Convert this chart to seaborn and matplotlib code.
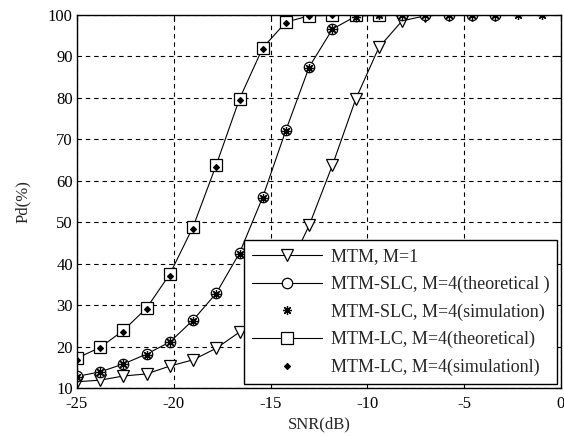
import matplotlib
matplotlib.use("Agg")
import matplotlib.pyplot as plt
import seaborn as sns
import pandas as pd

# SNR grid (dB)
snr = [-25.0, -23.8, -22.6, -21.4, -20.2, -19.0, -17.8, -16.6, -15.4, -14.2,
       -13.0, -11.8, -10.6, -9.4, -8.2, -7.0, -5.8, -4.6, -3.4, -2.2, -1.0]

# MTM, M=1
pd_mtm = [11.5, 11.9, 12.9, 13.4, 15.3, 16.8, 19.6, 23.5, 29.5, 37.5,
          49.3, 63.8, 79.7, 92.2, 98.6, 99.8, 100.0, 100.0, 100.0]
# MTM-SLC theoretical
pd_slc_theo = [12.8, 13.9, 15.8, 18.2, 21.1, 26.4, 32.9, 42.6, 56.1, 72.3,
               87.5, 96.6, 99.7, 100.0, 100.0, 100.0, 100.0, 100.0, 100.0]
# MTM-SLC simulation
pd_slc_sim = [12.6, 13.8, 15.7, 18.0, 21.0, 26.2, 32.8, 42.4, 55.8, 72.0,
              87.3, 96.5, 99.6, 100.0, 100.0, 100.0, 100.0, 100.0, 100.0, 100.0, 100.0]
# MTM-LC theoretical
pd_lc_theo = [17.2, 19.8, 23.9, 29.3, 37.5, 48.9, 63.9, 79.8, 92.1, 98.3,
              99.8, 99.9, 100.0, 100.0]
# MTM-LC simulation
pd_lc_sim = [16.8, 19.6, 23.5, 29.0, 37.0, 48.4, 63.4, 79.4, 91.9, 98.1,
             99.7, 99.9, 100.0, 100.0]

labels = ["MTM, M=1",
          "MTM-SLC, M=4(theoretical )",
          "MTM-SLC, M=4(simulation)",
          "MTM-LC, M=4(theoretical)",
          "MTM-LC, M=4(simulationl)"]

xticks = [-25, -20, -15, -10, -5, 0]
yticks = [10, 20, 30, 40, 50, 60, 70, 80, 90, 100]

sns.set_style("white")
plt.rcParams['font.family'] = ['Liberation Serif', 'DejaVu Serif']
plt.rcParams['font.size'] = 12
plt.rcParams['axes.unicode_minus'] = False

fig = plt.figure(figsize=(5.64, 4.37), dpi=100)
ax = fig.add_axes([0.1365, 0.1121, 0.858, 0.8536])

common = dict(color='black', linewidth=0.8, markeredgecolor='black',
              markeredgewidth=0.9, ax=ax)

sns.lineplot(x=snr[:len(pd_mtm)], y=pd_mtm, marker='v', markersize=8.5,
             markerfacecolor='white', label=labels[0], **common)
sns.lineplot(x=snr[:len(pd_slc_theo)], y=pd_slc_theo, marker='o', markersize=7.5,
             markerfacecolor='white', label=labels[1], **common)
sns.lineplot(x=snr[:len(pd_lc_theo)], y=pd_lc_theo, marker='s', markersize=8,
             markerfacecolor='white', label=labels[3], **common)
sns.lineplot(x=snr[:len(pd_slc_sim)], y=pd_slc_sim, marker=(8, 2, 0), markersize=6.5,
             linestyle='none', label=labels[2], **common)
sns.lineplot(x=snr[:len(pd_lc_sim)], y=pd_lc_sim, marker='D', markersize=3,
             markerfacecolor='black', linestyle='none', label=labels[4], **common)

ax.set_xlim(-25, 0)
ax.set_ylim(10, 100)
ax.set_xticks(xticks)
ax.set_yticks(yticks)
ax.grid(True, color='black', linestyle=(0, (4, 3.5)), linewidth=0.8)
for s in ax.spines.values():
    s.set_color('black')
    s.set_linewidth(1.0)
ax.tick_params(direction='in', length=4, width=0.8, top=True, right=True,
               labelsize=12, colors='black')
ax.tick_params(axis='x', pad=6)
ax.tick_params(axis='y', pad=3)
ax.set_xlabel("SNR(dB)", fontsize=12, labelpad=3)
ax.set_ylabel("Pd(%)", fontsize=12, labelpad=12)

handles, labs = ax.get_legend_handles_labels()
order = [labs.index(l) for l in labels]
leg = ax.legend([handles[i] for i in order], [labs[i] for i in order],
                loc='lower right', fancybox=False, framealpha=1,
                edgecolor='black', fontsize=13, handlelength=3.9,
                borderaxespad=0.2, labelspacing=0.58, handletextpad=0.45,
                borderpad=0.45)
leg.get_frame().set_linewidth(1.0)

fig.savefig("out.png", dpi=100)
